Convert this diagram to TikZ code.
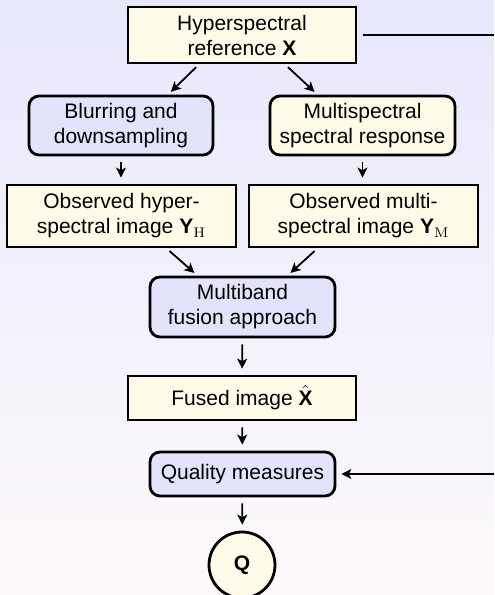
\documentclass[tikz,border=0pt]{standalone}
\usepackage{amsmath}
\usepackage[no-math]{fontspec}
\setmainfont{Liberation Sans}
\usetikzlibrary{arrows.meta,shapes.geometric}
\definecolor{bgtop}{HTML}{E8E8FC}
\definecolor{bgbot}{HTML}{FDF9FB}
\definecolor{cream}{HTML}{FFFBE8}
\definecolor{lav}{HTML}{E3E3FB}
\tikzset{
  base/.style={draw=black, line width=1.4pt, align=center, inner sep=1pt,
    font=\fontsize{10.5}{12.5}\selectfont, text=black},
  sqbox/.style={base, rectangle, fill=cream},
  rdbox/.style={base, rectangle, rounded corners=5pt},
  arr/.style={line width=0.9pt, -{Stealth[length=5pt,width=5pt,inset=1.3pt]}},
  varr/.style={arr, shorten >=3pt, shorten <=3pt},
  darr/.style={arr, shorten >=2pt, shorten <=2pt},
}
\begin{document}
\begin{tikzpicture}[x=0.5pt,y=-0.5pt]
\shade[top color=bgtop, bottom color=bgbot] (0,0) rectangle (494,595);
\useasboundingbox (0,0) rectangle (494,595);

\node[sqbox, minimum width=114pt, minimum height=28pt] (top) at (242,35)
  {Hyperspectral\\reference \textbf{X}};
\node[rdbox, fill=lav, minimum width=92pt, minimum height=29.5pt] (blur) at (121,125.5)
  {Blurring and\\downsampling};
\node[rdbox, fill=cream, minimum width=92.5pt, minimum height=29.5pt] (msr) at (362.5,125.5)
  {Multispectral\\spectral response};
\node[sqbox, minimum width=114.5pt, minimum height=31pt] (obsH) at (121.5,216)
  {Observed hyper-\\spectral image \textbf{Y}$_{\mathrm{H}}$};
\node[sqbox, minimum width=114.5pt, minimum height=31pt] (obsM) at (363.5,216)
  {Observed multi-\\spectral image \textbf{Y}$_{\mathrm{M}}$};
\node[rdbox, fill=lav, minimum width=92.5pt, minimum height=30pt] (fusion) at (242.5,307)
  {Multiband\\fusion approach};
\node[sqbox, minimum width=114pt, minimum height=22pt] (fused) at (242,398)
  {Fused image $\hat{\textbf{X}}$};
\node[rdbox, fill=lav, minimum width=92.5pt, minimum height=22pt] (qual) at (242.5,474)
  {Quality measures};
\node[base, circle, fill=cream, minimum size=33pt, font=\fontsize{10.5}{12.5}\selectfont\bfseries] (Q) at (242,565) {Q};

\coordinate (r1) at (494,35);
\coordinate (r2) at (494,474);

\draw[darr] ([xshift=-21.5pt]top.south) -- ([xshift=23.5pt]blur.north);
\draw[darr] ([xshift=21.5pt]top.south) -- ([xshift=-22.5pt]msr.north);
\draw[varr] (blur) -- (blur|-obsH.north);
\draw[varr] (msr) -- (msr|-obsM.north);
\draw[darr] ([xshift=22.5pt]obsH.south) -- ([xshift=-22.5pt]fusion.north);
\draw[darr] ([xshift=-23pt]obsM.south) -- ([xshift=22.5pt]fusion.north);
\draw[varr] (fusion) -- (fused);
\draw[varr] (fused) -- (qual);
\draw[varr] (qual) -- (Q);
\draw[line width=0.9pt, shorten <=3pt] (top.east) -- (r1);
\draw[arr, shorten >=2.5pt] (r2) -- (qual.east);
\end{tikzpicture}
\end{document}
